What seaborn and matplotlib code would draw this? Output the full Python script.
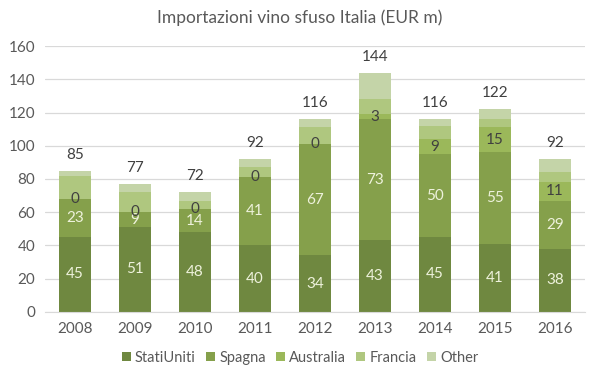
import matplotlib
matplotlib.use("Agg")
import matplotlib.pyplot as plt
import seaborn as sns
import numpy as np
import pandas as pd
from matplotlib.patches import Patch

years = ["2008", "2009", "2010", "2011", "2012", "2013", "2014", "2015", "2016"]
stati_uniti = [45, 51, 48, 40, 34, 43, 45, 41, 38]
spagna = [23, 9, 14, 41, 67, 73, 50, 55, 29]
australia = [0, 0, 0, 0, 0, 3, 9, 15, 11]
francia = [14, 12, 5, 6, 10, 9, 8, 5, 6]
other = [3, 5, 5, 5, 5, 16, 4, 6, 8]
totals = [85, 77, 72, 92, 116, 144, 116, 122, 92]

series_names = ["StatiUniti", "Spagna", "Australia", "Francia", "Other"]
series = [stati_uniti, spagna, australia, francia, other]
colors = ["#6f8840", "#85a04b", "#9bb85a", "#afc77f", "#c4d4a8"]
label_colors = ["#eef2dc", "#eef2dc", "#404040", None, None]

sns.set_style("white")
plt.rcParams["font.family"] = ["Lato", "DejaVu Sans"]

fig = plt.figure(figsize=(6, 3.78), dpi=100)
ax = fig.add_axes([0.075, 0.175, 0.9, 0.703])

cum = np.cumsum(np.array(series), axis=0)
df = pd.DataFrame({"year": years})
for i in range(len(series) - 1, -1, -1):
    df["v"] = cum[i]
    sns.barplot(data=df, x="year", y="v", color=colors[i], width=0.52,
                saturation=1, ax=ax, zorder=2, linewidth=0)

xs = np.arange(len(years))
for i in range(3):
    bottoms = cum[i] - np.array(series[i])
    for x, b, v in zip(xs, bottoms, series[i]):
        ax.text(x, b + v / 2, str(v), ha="center", va="center",
                color=label_colors[i], fontsize=11, zorder=3)
for x, t in zip(xs, totals):
    ax.text(x, t + 9.5, str(t), ha="center", va="center", color="#404040",
            fontsize=11, zorder=3)

ax.set_ylim(0, 160)
ax.set_yticks(range(0, 161, 20))
ax.set_xlim(-0.5, len(years) - 0.5)
ax.grid(axis="y", color="#d9d9d9", linewidth=0.9, zorder=0)
ax.set_axisbelow(True)
for s in ["top", "right", "left"]:
    ax.spines[s].set_visible(False)
ax.spines["bottom"].set_color("#d9d9d9")
ax.tick_params(axis="both", length=0, labelsize=11, labelcolor="#595959", pad=7)
ax.set_xlabel("")
ax.set_ylabel("")
fig.suptitle("Importazioni vino sfuso Italia (EUR m)", y=0.975, fontsize=12.5,
             color="#595959")

handles = [Patch(facecolor=c, edgecolor="none") for c in colors]
fig.legend(handles, series_names, loc="lower center", ncol=5, frameon=False,
           fontsize=10.5, bbox_to_anchor=(0.5, 0.0), handlelength=0.6,
           handleheight=0.6, handletextpad=0.3, columnspacing=0.7,
           labelcolor="#595959")

fig.savefig("out.png", dpi=100)
